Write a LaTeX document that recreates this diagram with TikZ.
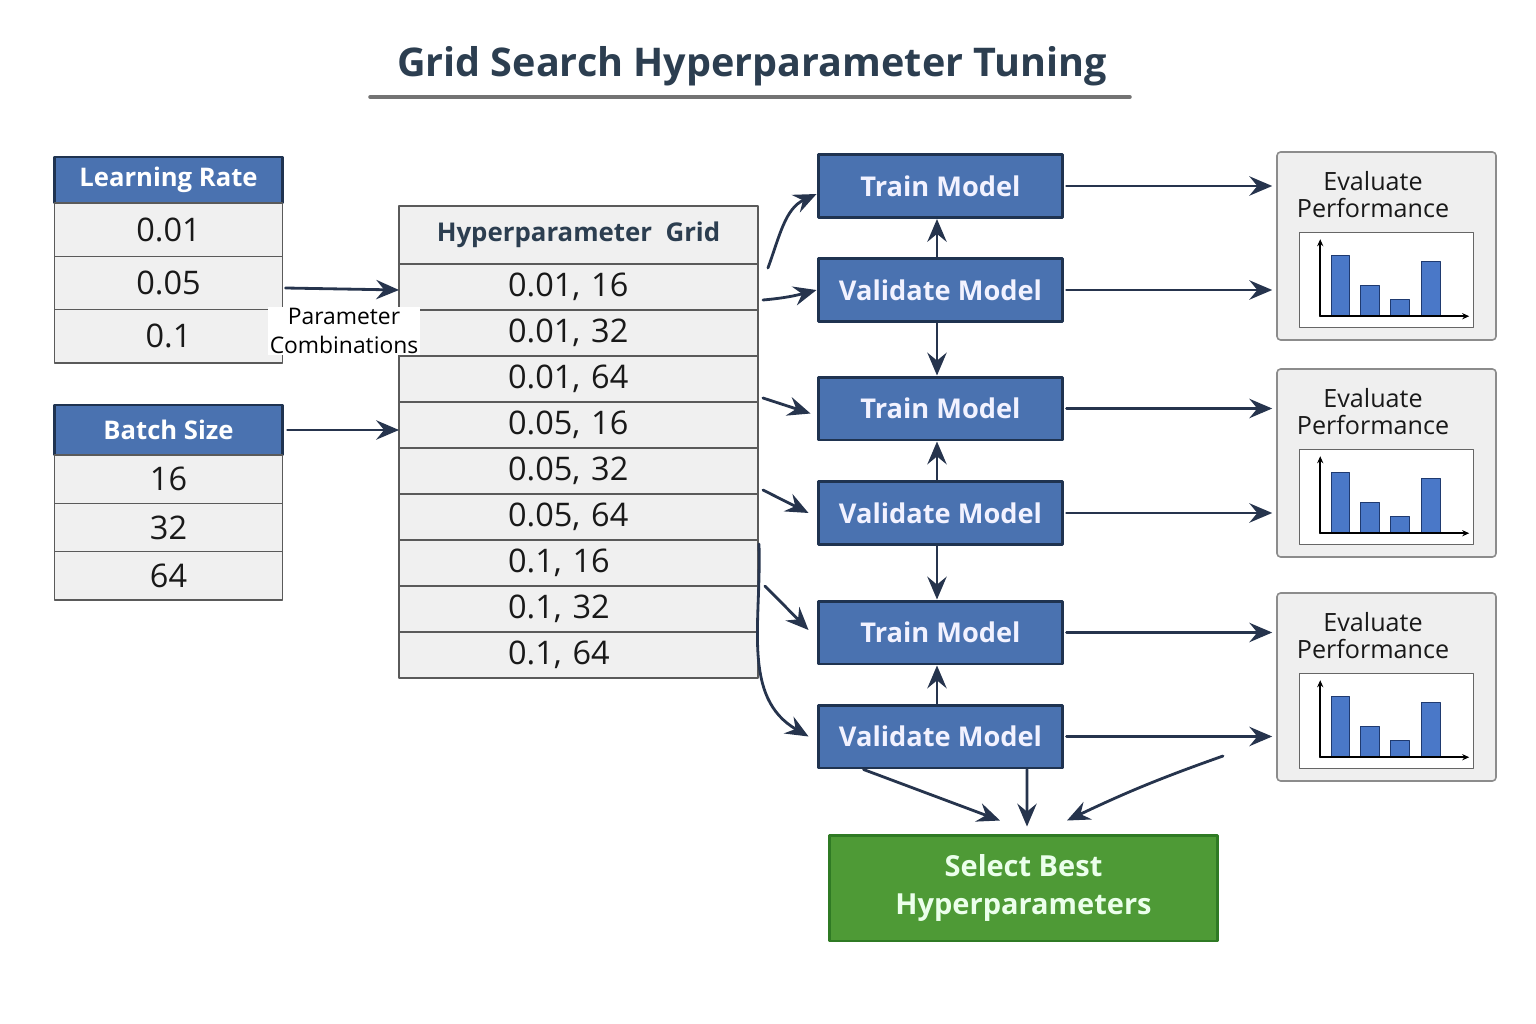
\documentclass[tikz,border=0pt]{standalone}
\usepackage{fontspec}
\setmainfont{Open Sans}
\newcommand{\semifont}{\bfseries}
\usetikzlibrary{positioning,arrows.meta}
\definecolor{hdr_blue}{HTML}{4A72B0}
\definecolor{box_navy}{HTML}{1F3350}
\definecolor{arrow_navy}{HTML}{26344D}
\definecolor{cell_gray}{HTML}{F0F0F0}
\definecolor{line_gray}{HTML}{5A5A5A}
\definecolor{eval_gray}{HTML}{EFEFEF}
\definecolor{eval_line}{HTML}{8C8C8C}
\definecolor{bar_blue}{HTML}{4A78C8}
\definecolor{bar_line}{HTML}{1F3A70}
\definecolor{best_green}{HTML}{4E9A36}
\definecolor{best_line}{HTML}{2F7A24}
\definecolor{title_slate}{HTML}{2C3E50}

\tikzset{
  hdr/.style={fill=hdr_blue, draw=box_navy, line width=1.2pt, text=white, outer sep=0pt,
    minimum width=4.56cm, font=\semifont\fontsize{14.6}{18}\selectfont},
  cell/.style={fill=cell_gray, draw=line_gray, line width=0.8pt, text=black!90, outer sep=0pt,
    minimum width=4.56cm, font=\fontsize{18.5}{21}\selectfont},
  gridcell/.style={cell, minimum width=7.18cm, minimum height=0.92cm, inner xsep=2.18cm,
    text width=2.82cm, align=left},
  model/.style={fill=hdr_blue, draw=box_navy, line width=1.7pt, text=white!95!blue,
    minimum width=4.9cm, minimum height=1.26cm, font=\semifont\fontsize{15.5}{19}\selectfont},
  evalbox/.style={fill=eval_gray, draw=eval_line, line width=0.9pt, rounded corners=2pt,
    minimum width=4.38cm, minimum height=3.76cm},
  evaltxt/.style={align=center, font=\fontsize{14.3}{15.3}\selectfont, text=black!90},
  bar/.style={fill=bar_blue, draw=bar_line, line width=0.6pt},
  flow/.style={-{Stealth[length=13pt,width=11pt,inset=4.5pt]}, line width=1.6pt, draw=arrow_navy},
}

\begin{document}
\begin{tikzpicture}[x=0.02cm, y=-0.02cm, line cap=round, line join=round]
  \useasboundingbox (0,0) rectangle (1536,1024);

  % Title
  \node[text=title_slate, font=\semifont\fontsize{22.5}{28}\selectfont] (title) at (752,66) {Grid Search Hyperparameter Tuning};
  \draw[line width=2pt, draw=black!55] (370,97) -- (1130,97);

  % Learning rate table
  \node[hdr, minimum height=0.92cm] (lr) at (168.5,180) {Learning Rate};
  \foreach \v [count=\i] in {0.01,0.05,0.1}
    \node[cell, minimum height=1.067cm] (lr\i) at (168.5,{203+53.3*(\i-0.5)}) {\v};

  % Batch size table
  \node[hdr, minimum height=1cm] (bs) at (168.5,430) {Batch Size};
  \foreach \v [count=\i] in {16,32,64}
    \node[cell, minimum height=0.967cm] (bs\i) at (168.5,{455+48.3*(\i-0.5)}) {\v};

  % Hyperparameter grid
  \node[cell, minimum width=7.18cm, minimum height=1.16cm, text=title_slate,
        font=\semifont\fontsize{14.7}{18}\selectfont] (gh) at (578.5,235) {Hyperparameter\ \ Grid};
  \foreach \v [count=\i] in {{0.01, 16},{0.01, 32},{0.01, 64},{0.05, 16},{0.05, 32},{0.05, 64},{0.1, 16},{0.1, 32},{0.1, 64}}
    \node[gridcell] (g\i) at (578.5,{264+46*(\i-0.5)}) {\v};

  % Inputs to grid
  \draw[flow] ([xshift=0.06cm]lr2.east |- 0,288) -- (gh.west |- 0,290) coordinate (lrin);
  \draw[flow] ([xshift=0.1cm]bs.east) -- (gh.west |- bs.east);
  \node[fill=white, inner sep=1pt, align=center, font=\fontsize{13}{16.4}\selectfont] (pc) at (344,331) {Parameter\\Combinations};

  % Train / validate boxes
  \foreach \n/\t/\yy in {t1/Train Model/186, v1/Validate Model/290, t2/Train Model/408.5,
                         v2/Validate Model/513, t3/Train Model/632.5, v3/Validate Model/736.5}
    \node[model] (\n) at (940.5,\yy) {\t};

  % Evaluate boxes with charts
  \foreach \i/\yy in {1/246, 2/463, 3/687} {
    \node[evalbox] (e\i) at (1386.5,\yy) {};
    \node[evaltxt] (et\i) at ([xshift=-0.27cm,yshift=-0.86cm]e\i.north) {Evaluate\\Performance};
    \begin{scope}[shift={(e\i.north west)}]
      \draw[fill=white, draw=black!60, line width=0.8pt] (23,81) rectangle (197,176);
      \foreach \a/\b/\h in {55/73/104, 84/103/134, 114/133/148, 145/164/110}
        \draw[bar] (\a,165) rectangle (\b,\h);
      \draw[-{Stealth[length=4pt,width=3.5pt]}, line width=1pt] (44,165) -- (44,88);
      \draw[-{Stealth[length=4pt,width=3.5pt]}, line width=1pt] (44,165) -- (193,165);
    \end{scope}
  }

  % Grid to models
  \draw[flow] ([xshift=0.2cm,yshift=-0.08cm]gh.south east) to[out=70,in=205] ([yshift=-0.16cm]t1.west);
  \draw[flow] ([xshift=0.1cm,yshift=-0.26cm]g1.east) to[out=5,in=195] (v1.west);
  \draw[flow] ([xshift=0.1cm,yshift=0.08cm]g3.south east) -- ([xshift=-0.12cm,yshift=-0.1cm]t2.west);
  \draw[flow] ([xshift=0.1cm,yshift=0.08cm]g5.south east) -- ([xshift=-0.16cm]v2.west);
  \draw[flow] ([xshift=0.14cm]g7.south east) -- ([xshift=-0.16cm,yshift=0.05cm]t3.west);
  \draw[flow] ([xshift=0.02cm,yshift=-0.08cm]g6.south east) to[out=-88,in=150] ([xshift=-0.16cm]v3.west);

  % Between models
  \draw[flow] (v1.north -| 937,0) -- (t1.south -| 937,0);
  \draw[flow] (v1.south -| 937,0) -- (t2.north -| 937,0);
  \draw[flow] (v2.north -| 937,0) -- (t2.south -| 937,0);
  \draw[flow] (v2.south -| 937,0) -- (t3.north -| 937,0);
  \draw[flow] (v3.north -| 937,0) -- (t3.south -| 937,0);

  % Models to evaluation
  \foreach \m/\e in {t1/e1, v1/e1, t2/e2, v2/e2, t3/e3, v3/e3}
    \draw[flow, shorten >=0.08cm] ([xshift=0.04cm]\m.east) -- (\m.east -| \e.west);

  % Select best
  \node[fill=best_green, draw=best_line, line width=1.7pt, text=white!92!green,
        minimum width=7.78cm, minimum height=2.12cm, align=center,
        font=\semifont\fontsize{16.5}{22}\selectfont] (sb) at (1023.5,888) {Select Best\\Hyperparameters};
  \coordinate (c3) at (1223,756);
  \draw[flow] ([xshift=0.94cm]v3.south west) -- ([xshift=-0.47cm,yshift=0.26cm]sb.north);
  \draw[flow] (v3.south -| 1027,0) -- ([xshift=0.07cm,yshift=0.14cm]sb.north);
  \draw[flow] (c3) to[bend right=3] ([xshift=0.87cm,yshift=0.26cm]sb.north);
\end{tikzpicture}
\end{document}
